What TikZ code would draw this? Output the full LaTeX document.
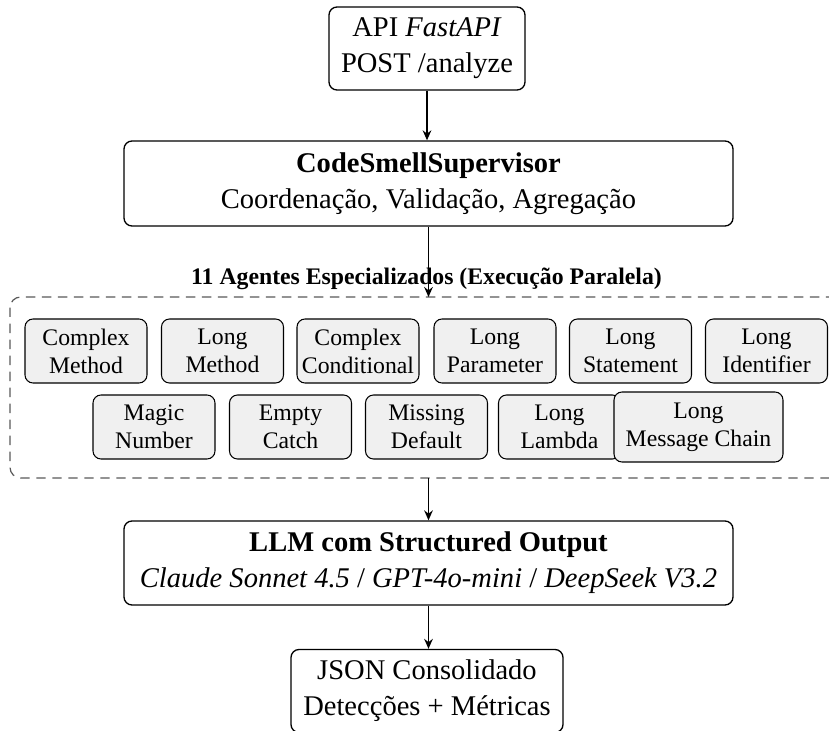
\documentclass[tikz,border=0pt]{standalone}
\usepackage{fontspec}
\setmainfont{Liberation Serif}
\usetikzlibrary{arrows.meta}
\begin{document}
\begin{tikzpicture}[x=0.75pt,y=-0.75pt,
  mainbox/.style={draw, rounded corners=6pt, line width=1pt, align=center,
    font=\fontsize{21.4}{27}\selectfont, inner sep=0pt},
  agent/.style={draw, rounded corners=6pt, fill=black!6, line width=0.8pt, align=center,
    font=\fontsize{17.8}{21}\selectfont, inner sep=0pt, minimum width=91.5pt, minimum height=48pt},
  flow/.style={-{Stealth[length=7.5pt,width=6.5pt,inset=2.5pt]}, line width=1.2pt},
  grpbox/.style={draw=black!65, line width=0.9pt, rounded corners=8pt, dash pattern=on 7pt off 5pt}]
\useasboundingbox (0,0) rectangle (829,731);
\clip (0,0) rectangle (829,731);

\node[mainbox, minimum width=147pt, minimum height=62.25pt] (api) at (427,48.5)
  {API \textit{FastAPI}\\POST /analyze};
\node[mainbox, minimum width=456.75pt, minimum height=63.75pt] (sup) at (428.5,183.5)
  {\textbf{CodeSmellSupervisor}\\Coordenação, Validação, Agregação};

\node[anchor=base, font=\bfseries\fontsize{17.8}{21}\selectfont, inner sep=0pt] (title) at (426.5,285)
  {11 Agentes Especializados (Execução Paralela)};

\draw[grpbox] (10,297) rectangle (870,478);
\coordinate (gtop) at (428.5,297);
\coordinate (gbot) at (428.5,478);

% row 1
\node[agent] (a1) at (86,351) {Complex\\Method};
\node[agent] (a2) at (222.5,351) {Long\\Method};
\node[agent] (a3) at (358,351) {Complex\\Conditional};
\node[agent] (a4) at (495,351) {Long\\Parameter};
\node[agent] (a5) at (630.5,351) {Long\\Statement};
\node[agent] (a6) at (766.5,351) {Long\\Identifier};
% row 2
\node[agent] (b1) at (154,427) {Magic\\Number};
\node[agent] (b2) at (290.5,427) {Empty\\Catch};
\node[agent] (b3) at (426.5,427) {Missing\\Default};
\node[agent] (b4) at (559.5,427) {Long\\Lambda};
\node[agent, minimum width=126.75pt, minimum height=52.5pt] (b5) at (698.5,427) {Long\\Message Chain};

\node[mainbox, minimum width=456.75pt, minimum height=63pt] (llm) at (428.5,563)
  {\textbf{LLM com Structured Output}\\\textit{Claude Sonnet 4.5} / \textit{GPT-4o-mini} / \textit{DeepSeek V3.2}};
\node[mainbox, minimum width=204pt, minimum height=62.25pt] (json) at (427,691)
  {JSON Consolidado\\Detecções + Métricas};

\draw[flow] (api.south) -- (api.south |- sup.north);
\draw[flow] (sup.south) -- (gtop);
\draw[flow] (gbot) -- (llm.north);
\draw[flow] (llm.south) -- (llm.south |- json.north);
\end{tikzpicture}
\end{document}
